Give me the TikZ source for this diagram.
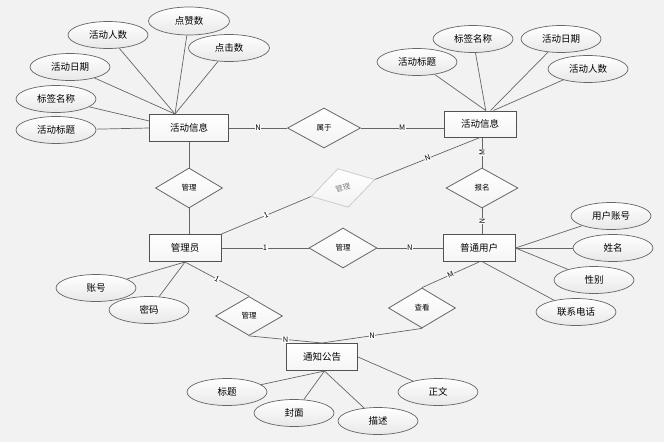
\documentclass[tikz,border=0pt]{standalone}
\usepackage{fontspec}
\setmainfont{Noto Sans CJK SC}
\usetikzlibrary{shapes.geometric}
\definecolor{bgc}{HTML}{F2F2F2}
\definecolor{edgec}{HTML}{666666}

\begin{document}
\begin{tikzpicture}[
  x=1pt, y=-1pt,
  entity/.style={draw=edgec!80!black, line width=1pt, top color=white, bottom color=gray!8,
    minimum width=72, minimum height=27, inner sep=0, font=\fontsize{9.5}{10}\selectfont},
  attr/.style={ellipse, draw=edgec, line width=0.7pt, top color=white, bottom color=gray!18,
    minimum width=80, minimum height=27, inner sep=0, font=\fontsize{9.5}{10}\selectfont},
  rel/.style={diamond, draw=edgec, line width=0.8pt, top color=white, bottom color=gray!10,
    minimum width=67, minimum height=40, inner sep=0, font=\fontsize{7.5}{8}\selectfont},
  link/.style={draw=edgec, line width=0.7pt},
  card/.style={fill=white, inner sep=0.4pt, font=\fontsize{7.5}{8}\selectfont},
]
\useasboundingbox[fill=bgc] (0,0) rectangle (664,442);

% entities
\node[entity, minimum width=79] (hdL) at (189,128) {活动信息};
\node[entity, minimum height=26] (hdR) at (480,124) {活动信息};
\node[entity] (gly) at (185,248) {管理员};
\node[entity] (yh) at (479,248) {普通用户};
\node[entity, minimum width=71] (tz) at (322,357) {通知公告};

% relations
\node[rel, minimum width=73] (sy) at (324,128) {属于};
\node[rel] (gl1) at (189,188) {管理};
\node[rel, draw=gray!40, text=gray, minimum width=66, rotate=15] (glg) at (343,188) {管理};
\node[rel, minimum width=68] (gl2) at (343,248) {管理};
\node[rel, minimum width=72] (bm) at (482,188) {报名};
\node[rel, minimum height=39] (gl3) at (249,316) {管理};
\node[rel] (ck) at (422,308) {查看};

% attributes of hdL
\node[attr] (a1) at (108,35) {活动人数};
\node[attr, minimum width=81, minimum height=28] (a2) at (189,21) {点赞数};
\node[attr, minimum width=81] (a3) at (229,48) {点击数};
\node[attr] (a4) at (70,67) {活动日期};
\node[attr] (a5) at (56,99) {标签名称};
\node[attr] (a6) at (56,130) {活动标题};
\foreach \a in {a1,a2,a3,a4} \draw[link] (\a) -- (hdL.135);
\draw[link] (a5) -- (hdL.170);
\draw[link] (a6) -- (hdL.west);

% attributes of hdR
\node[attr] (b1) at (417,62) {活动标题};
\node[attr] (b2) at (473,39) {标签名称};
\node[attr] (b3) at (561,39) {活动日期};
\node[attr] (b4) at (588,69) {活动人数};
\draw[link] (b1) -- (hdR.67);
\draw[link] (b2) -- (hdR.67);
\draw[link] (b3) -- (hdR.52);
\draw[link] (b4) -- (hdR.45);

% attributes of yh
\node[attr] (c1) at (611,216) {用户账号};
\node[attr] (c2) at (613,248) {姓名};
\node[attr] (c3) at (594,280) {性别};
\node[attr] (c4) at (576,312) {联系电话};
\foreach \c in {c1,c2,c3} \draw[link] (\c) -- (yh.east);
\draw[link] (c4) -- (yh.-75);

% attributes of gly
\node[attr] (d1) at (96,288) {账号};
\node[attr] (d2) at (149,310) {密码};
\draw[link] (d1) -- (gly.south);
\draw[link] (d2) -- (gly.south);

% attributes of tz
\node[attr] (e1) at (227,392) {标题};
\node[attr] (e2) at (294,413) {封面};
\node[attr] (e3) at (378,421) {描述};
\node[attr] (e4) at (438,392) {正文};
\foreach \e in {e1,e2,e3} \draw[link] (\e) -- (tz.-80);
\draw[link] (e4) -- (tz.east);

% relationships
\draw[link] (hdL) -- node[card] {N} (sy);
\draw[link] (sy.east) -- node[card] {M} (hdR.west |- sy.east);
\draw[link] (hdL) -- (gl1);
\draw[link] (gl1.south) -- (gl1.south |- gly.north);
\draw[link] (gly.north east) -- node[card, sloped] {1} (glg.west);
\draw[link] (glg.east) -- node[card, sloped] {N} (hdR.south);
\draw[link] (gly) -- node[card] {1} (gl2);
\draw[link] (gl2) -- node[card] {N} (yh);
\draw[link] (bm.north) -- node[card, sloped] {M} (bm.north |- hdR.south);
\draw[link] (bm.south) -- node[card, sloped] {N} (bm.south |- yh.north);
\draw[link] (gly.south) -- node[card, sloped] {1} (gl3.north);
\draw[link] (gl3.south) -- node[card] {N} (tz.north);
\draw[link] (yh.south) -- node[card, sloped] {M} (ck.north);
\draw[link] (ck.south) -- node[card] {N} (tz.north);
\end{tikzpicture}
\end{document}
